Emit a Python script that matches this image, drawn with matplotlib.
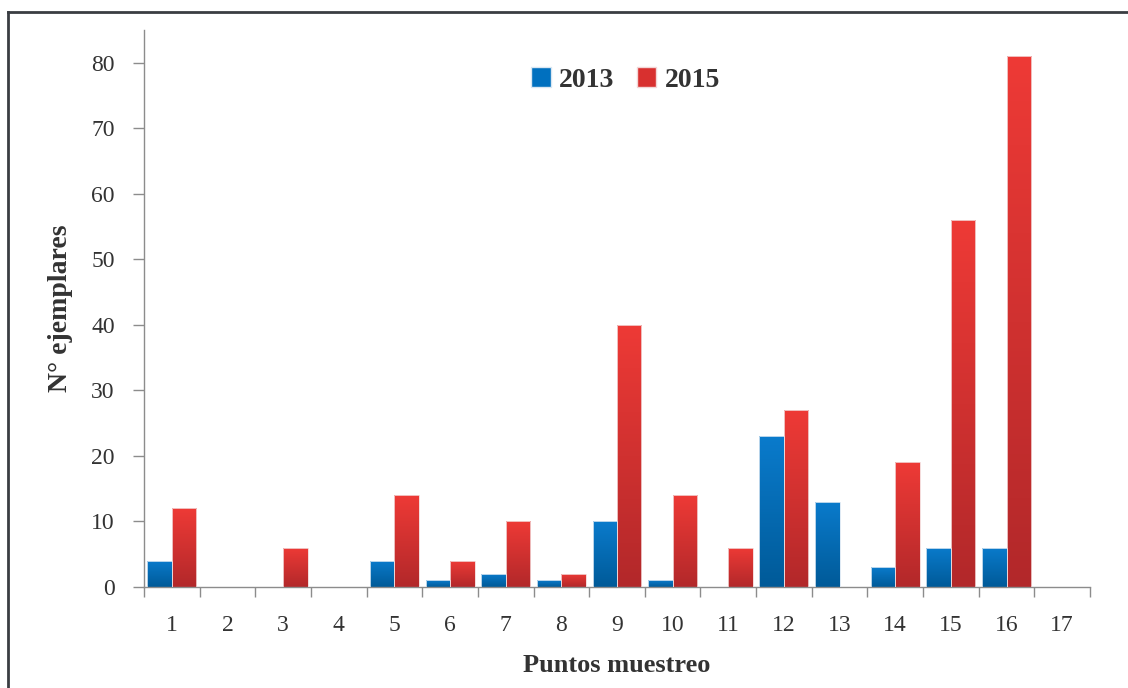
import numpy as np
import matplotlib
matplotlib.use("Agg")
import matplotlib.pyplot as plt
from matplotlib.colors import LinearSegmentedColormap
from matplotlib.patches import Patch
from matplotlib.lines import Line2D

# Sampling points and specimen counts per year
puntos = [str(i) for i in range(1, 18)]
ejemplares_2013 = [4, 0, 0, 0, 4, 1, 2, 1, 10, 1, 0, 23, 13, 3, 6, 6, 0]
ejemplares_2015 = [12, 0, 6, 0, 14, 4, 10, 2, 40, 14, 6, 27, 0, 19, 56, 81, 0]
y_ticks = [0, 10, 20, 30, 40, 50, 60, 70, 80]

plt.rcParams['font.family'] = ['Liberation Serif', 'DejaVu Serif']

fig = plt.figure(figsize=(11.28, 6.88), dpi=100)
ax = fig.add_axes([144 / 1128, 1 - 587 / 688, (1090 - 144) / 1128, (587 - 30) / 688])

blue_cmap = LinearSegmentedColormap.from_list("b", ["#005a98", "#0a7bcc"])
red_cmap = LinearSegmentedColormap.from_list("r", ["#b2282a", "#ee3a36"])

x = np.arange(len(puntos))
width = 0.44


def gradient_bars(xpos, heights, cmap, edge):
    bars = ax.bar(xpos, heights, width, color="none", edgecolor=edge,
                  linewidth=0.6, zorder=3)
    grad = np.linspace(0, 1, 256).reshape(-1, 1)
    for b in bars:
        h = b.get_height()
        if h <= 0:
            continue
        x0 = b.get_x()
        im = ax.imshow(grad, cmap=cmap, origin="lower", aspect="auto",
                       extent=(x0, x0 + b.get_width(), 0, h), zorder=2)
        im.set_clip_path(b)
    return bars


gradient_bars(x - width / 2, ejemplares_2013, blue_cmap, "#d9e6f2")
gradient_bars(x + width / 2, ejemplares_2015, red_cmap, "#f2d6d6")

ax.set_xlim(-0.5, len(puntos) - 0.5)
ax.set_ylim(0, 85)

# Category boundaries carry the x ticks; labels sit at category centres
ax.set_xticks(np.arange(-0.5, len(puntos), 1.0))
ax.set_xticklabels([])
ax.set_xticks(x, minor=True)
ax.set_xticklabels(puntos, minor=True)
ax.tick_params(axis="x", which="major", length=7, width=1, color="#8c8c8c")
ax.tick_params(axis="x", which="minor", length=0, pad=20, labelsize=17,
               labelcolor="#333333")

ax.set_yticks(y_ticks)
ax.tick_params(axis="y", length=8, width=1, color="#8c8c8c", labelsize=17,
               labelcolor="#333333", pad=13)

for side in ("top", "right"):
    ax.spines[side].set_visible(False)
for side in ("left", "bottom"):
    ax.spines[side].set_color("#8c8c8c")
    ax.spines[side].set_linewidth(1)

ax.set_xlabel("Puntos muestreo", fontsize=19, fontweight="bold",
              color="#333333", labelpad=13)
ax.set_ylabel("N° ejemplares", fontsize=20, fontweight="bold",
              color="#333333", labelpad=13)

handles = [Patch(facecolor="#0070bf", edgecolor="#d9e6f2"),
           Patch(facecolor="#d8302f", edgecolor="#f2d6d6")]
leg = ax.legend(handles, ["2013", "2015"], loc="upper center",
                bbox_to_anchor=(0.509, 0.978), ncol=2, frameon=False,
                handlelength=0.7, handleheight=0.7, handletextpad=0.3,
                columnspacing=0.8,
                prop={"family": ["Liberation Serif"], "weight": "bold", "size": 20})
for t in leg.get_texts():
    t.set_color("#333333")

# Frame lines along the left and top edges of the figure
fig.add_artist(Line2D([8 / 1128, 8 / 1128], [0, 1 - 12 / 688],
                      transform=fig.transFigure, color="#3a3d42", linewidth=2))
fig.add_artist(Line2D([8 / 1128, 1], [1 - 12 / 688, 1 - 12 / 688],
                      transform=fig.transFigure, color="#3a3d42", linewidth=2))

fig.savefig("out.png", dpi=100)
